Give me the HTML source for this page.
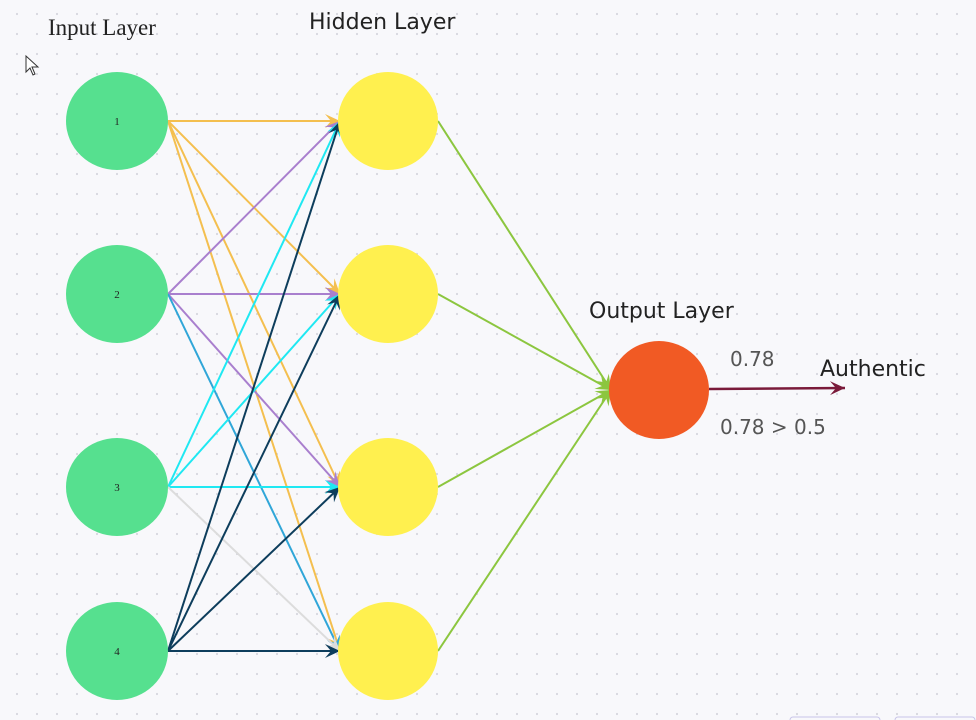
<!DOCTYPE html>
<html><head><meta charset="utf-8"><style>
html,body{margin:0;padding:0;background:#f8f8fb;}
svg{display:block}
</style></head><body>
<svg width="976" height="720" viewBox="0 0 976 720" xmlns="http://www.w3.org/2000/svg">
<defs>
<pattern id="dots" x="7" y="4" width="20" height="20" patternUnits="userSpaceOnUse"><circle cx="10" cy="10" r="1.1" fill="#d6d6de"/></pattern>
</defs>
<rect width="976" height="720" fill="url(#dots)"/>
<g id="edges"></g>
<g id="nodes"></g>
<text x="48" y="35" font-family="Liberation Serif, serif" font-size="23" fill="#222">Input Layer</text>
<text x="309" y="29" font-family="DejaVu Sans, sans-serif" font-size="22" fill="#222">Hidden Layer</text>
<text x="589" y="318" font-family="DejaVu Sans, sans-serif" font-size="22" fill="#222">Output Layer</text>
<text x="730" y="366" font-family="DejaVu Sans, sans-serif" font-size="20" fill="#555">0.78</text>
<text x="820" y="376" font-family="DejaVu Sans, sans-serif" font-size="22" fill="#222">Authentic</text>
<text x="720" y="434" font-family="DejaVu Sans, sans-serif" font-size="20" fill="#555">0.78 &gt; 0.5</text>
<path d="M26 56 L26 72 L30 68 L33 75 L35 74 L32 67 L38 67 Z" fill="#fff" stroke="#333" stroke-width="1"/>
<rect x="790" y="717" width="90" height="6" rx="3" fill="none" stroke="#c8c4e8"/>
<rect x="895" y="717" width="80" height="6" rx="3" fill="none" stroke="#c8c4e8"/>
</svg>
<script>
const inputYs=[121,294,487,651];
const hiddenYs=[121,294,487,651];
const inputLabels=["1","2","3","4"];
const edgeColors=[
 ["#f4bf4f","#f4bf4f","#f4bf4f","#f4bf4f"],
 ["#a97fce","#a97fce","#a97fce","#30a6d8"],
 ["#1fe8f2","#1fe8f2","#1fe8f2","#dcdcdc"],
 ["#0d3d5c","#0d3d5c","#0d3d5c","#0d3d5c"]
];
const output={x:659,y:390};
const NS="http://www.w3.org/2000/svg";
const E=document.getElementById('edges'),N=document.getElementById('nodes');
function mk(tag,attrs,parent){const el=document.createElementNS(NS,tag);for(const k in attrs)el.setAttribute(k,attrs[k]);parent.appendChild(el);return el;}
function arrow(x1,y1,x2,y2,c,w,name){
 const g=mk('g',{},E);
 
 
 mk('line',{x1:x1,y1:y1,x2:x2,y2:y2,stroke:c,'stroke-width':w},g);
 const a=Math.atan2(y2-y1,x2-x1),L=15,W=7;
 const bx=x2-L*Math.cos(a),by=y2-L*Math.sin(a);
 const mx=x2-L*0.6*Math.cos(a),my=y2-L*0.6*Math.sin(a);
 const p=[[x2,y2],[bx+W*Math.sin(a),by-W*Math.cos(a)],[mx,my],[bx-W*Math.sin(a),by+W*Math.cos(a)]];
 mk('path',{d:'M'+p.map(q=>q.join(' ')).join(' L')+' Z',fill:c},g);
}
inputYs.forEach((iy,i)=>{hiddenYs.forEach((hy,j)=>{
 arrow(168,iy,340,hy,edgeColors[i][j],2,'edge-i'+(i+1)+'-h'+(j+1));
});});
hiddenYs.forEach((hy,j)=>arrow(438,hy,output.x-48,output.y,'#8cc63f',2,'edge-h'+(j+1)+'-out'));
arrow(709,389,845,388,'#7a1a3a',2.5,'output-arrow');
inputYs.forEach((y,i)=>{
 const c=mk('ellipse',{cx:117,cy:y,rx:51,ry:49,fill:'#56e08f'},N);
 
 
 const t=mk('text',{x:117,y:y+4,'text-anchor':'middle','font-family':'Liberation Serif, serif','font-size':11,fill:'#222'},N);
 t.textContent=inputLabels[i];
 
 
});
hiddenYs.forEach((y,j)=>{
 const c=mk('ellipse',{cx:388,cy:y,rx:50,ry:49,fill:'#fff04f'},N);
 
 
});
const o=mk('ellipse',{cx:output.x,cy:output.y,rx:50,ry:49,fill:'#f15a24'},N);


</script>
</body></html>
